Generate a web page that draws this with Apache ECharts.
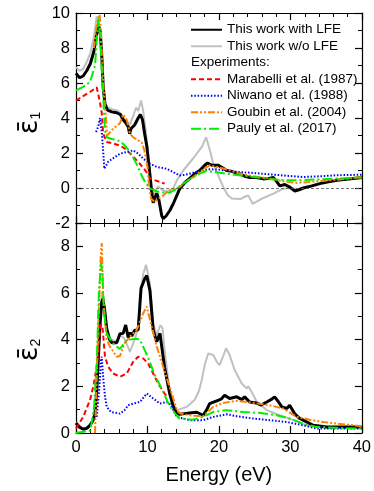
<!DOCTYPE html>
<html>
<head>
<meta charset="utf-8">
<script src="https://cdn.jsdelivr.net/npm/echarts@6/dist/echarts.min.js"></script>
<style>
  html, body { margin: 0; padding: 0; background: #fff; }
  #chart { width: 374px; height: 491px; }
</style>
</head>
<body>
<div id="chart"></div>
<script>
// energy (eV), value pairs
const eps1WithLfe = [[0, 6.55], [0.5, 6.3], [1, 6.4], [1.5, 6.7], [2, 7.1], [2.5, 7.8], [2.9, 8.8], [3.2, 9.2], [3.4, 8.9], [3.6, 7.6], [3.8, 5.8], [4.05, 4.8], [4.4, 4.45], [5, 4.35], [5.7, 4.3], [6.2, 4.2], [6.6, 3.9], [7.0, 3.7], [7.3, 3.5], [7.5, 3.1], [7.7, 3.4], [8.2, 3.6], [8.7, 4.0], [9.0, 4.2], [9.3, 3.9], [9.6, 3.1], [9.9, 2.4], [10.3, 0.9], [10.6, -0.25], [10.8, -0.85], [11.0, -0.6], [11.3, -0.3], [11.6, -0.7], [12.0, -1.6], [12.2, -1.75], [12.6, -1.6], [13.1, -1.3], [13.6, -0.9], [14.5, -0.05], [15.2, 0.3], [15.9, 0.55], [16.6, 0.8], [17.3, 1.0], [18.0, 1.3], [18.4, 1.43], [19.0, 1.3], [19.9, 1.3], [20.5, 1.15], [21.1, 1.0], [21.8, 0.95], [22.5, 0.85], [23.0, 0.8], [23.6, 0.67], [24.3, 0.6], [25.2, 0.6], [26.2, 0.52], [27.0, 0.55], [27.6, 0.6], [28.1, 0.35], [28.5, 0.12], [29.2, 0.2], [29.9, 0.05], [30.6, -0.17], [31.2, -0.1], [31.8, 0.0], [33.0, 0.12], [34.1, 0.25], [35.3, 0.35], [36.5, 0.44], [38.8, 0.54], [40, 0.6]];
const eps1NoLfe = [[0, 6.9], [0.5, 6.7], [1, 6.8], [1.5, 7.2], [2, 7.7], [2.5, 8.6], [2.9, 9.8], [3.1, 9.7], [3.4, 9.0], [3.6, 7.8], [3.8, 6.0], [4.05, 4.9], [4.4, 4.6], [5, 4.5], [5.7, 4.45], [6.2, 4.3], [6.6, 4.0], [7.0, 3.9], [7.5, 3.6], [8.0, 4.1], [8.4, 4.6], [8.7, 4.4], [9.1, 5.0], [9.4, 4.4], [9.8, 3.1], [10.2, 1.4], [10.5, 0.0], [10.8, -0.4], [11.1, -0.2], [11.5, 0.1], [12.0, -0.1], [12.6, -0.2], [13.2, -0.1], [13.6, 0.0], [14.2, 0.5], [15.0, 1.0], [16.4, 1.7], [17.6, 2.35], [18.2, 2.9], [18.7, 2.2], [19.2, 1.4], [19.9, 0.7], [20.6, 0.06], [21.2, -0.4], [21.8, -0.6], [23.0, -0.63], [23.6, -0.5], [24.1, -0.42], [24.7, -0.9], [25.4, -0.75], [26.2, -0.57], [27.6, -0.32], [29.0, -0.04], [30.0, 0.0], [31.0, -0.05], [32.0, 0.05], [34.0, 0.25], [36.5, 0.44], [38.8, 0.54], [40, 0.6]];
const eps1Marabelli = [[0, 5.0], [1, 5.25], [2, 5.5], [2.9, 5.75], [3.3, 5.0], [3.6, 4.3], [3.8, 3.1], [4.3, 2.63], [5.2, 2.55], [6.2, 2.42], [7.0, 2.2], [7.8, 1.87], [8.9, 1.4], [9.7, 1.0], [10.35, 0.55], [11.0, 0.45], [11.8, 0.34], [12.4, 0.25]];
const eps1Niwano = [[2.8, 3.2], [3.1, 3.5], [3.36, 4.0], [3.6, 3.2], [3.8, 2.1], [3.96, 1.1], [4.1, 1.0], [4.5, 1.5], [5.2, 1.7], [6.15, 1.96], [7.1, 2.06], [8.0, 2.15], [8.7, 1.96], [9.4, 1.68], [10.35, 1.39], [11.3, 1.2], [12.7, 1.1], [13.4, 0.95], [14.5, 0.72], [15.2, 0.75], [16, 0.83], [17.3, 0.97], [18.7, 1.07], [20, 1.05], [22.5, 0.92], [24.8, 0.86], [27.1, 0.78], [29.5, 0.7], [31.8, 0.63], [34.1, 0.67], [36.5, 0.73], [40, 0.76]];
const eps1Goubin = [[2.5, 8.0], [2.8, 9.0], [3.1, 9.7], [3.3, 9.9], [3.5, 8.8], [3.8, 6.0], [4.1, 4.5], [4.35, 3.0], [4.8, 3.2], [5.2, 3.4], [6.15, 3.7], [6.6, 4.2], [7.1, 3.9], [7.55, 3.1], [8.0, 2.9], [8.7, 2.72], [9.2, 2.6], [9.6, 2.1], [10.0, 1.2], [10.2, 0.15], [10.5, -0.6], [11.0, -0.8], [11.5, -0.6], [12.0, -0.5], [12.7, -0.23], [13.5, -0.1], [14.5, 0.06], [15.5, 0.4], [16.5, 0.65], [17.3, 0.92], [18.7, 1.3], [20.1, 1.16], [21.5, 1.01], [22.9, 0.82], [24.8, 0.67], [27.1, 0.54], [29.5, 0.35], [30.9, 0.29], [32.7, 0.35], [35.5, 0.44], [38.3, 0.54], [40, 0.63]];
const eps1Pauly = [[0, 5.58], [1, 5.78], [1.96, 6.05], [2.66, 7.0], [3.0, 9.0], [3.15, 9.68], [3.4, 8.5], [3.6, 6.7], [3.8, 5.2], [4.06, 3.3], [4.3, 2.9], [5.0, 2.8], [5.7, 2.75], [6.4, 2.6], [7.1, 2.3], [7.8, 1.9], [8.5, 1.35], [9.2, 0.7], [9.7, 0.3], [10.3, 0.0], [11.3, -0.2], [12.2, -0.25], [13.1, -0.27], [14.1, -0.05], [14.5, 0.12], [15.9, 0.5], [17.3, 0.82], [18.2, 0.97], [19.2, 0.92], [21.1, 0.82], [23.0, 0.72], [24.8, 0.63], [27.0, 0.52], [29.5, 0.44], [31.8, 0.45], [34.1, 0.5], [36.5, 0.54], [40, 0.6]];

const eps2WithLfe = [[0, 0.43], [0.5, 0.25], [1.0, 0.16], [1.5, 0.2], [1.96, 0.33], [2.4, 0.55], [2.66, 0.85], [2.9, 1.8], [3.1, 3.0], [3.35, 4.6], [3.6, 5.6], [3.75, 5.75], [4.0, 5.3], [4.3, 4.45], [4.7, 4.0], [5.0, 3.87], [5.7, 3.87], [6.15, 4.25], [6.6, 4.27], [6.95, 4.63], [7.3, 4.1], [7.6, 4.3], [7.8, 4.15], [8.2, 4.4], [8.7, 4.42], [9.1, 6.2], [9.6, 6.6], [9.9, 6.75], [10.35, 6.1], [10.8, 4.42], [11.3, 3.91], [11.75, 4.27], [12.0, 4.25], [12.4, 2.8], [13.1, 1.7], [13.6, 1.15], [14.1, 0.83], [14.5, 0.8], [15.2, 0.83], [15.9, 0.86], [16.9, 0.89], [17.8, 0.76], [18.3, 1.0], [18.7, 1.26], [19.7, 1.38], [20.3, 1.45], [20.8, 1.62], [21.5, 1.48], [22.5, 1.55], [23.2, 1.43], [23.6, 1.55], [24.3, 1.33], [25.2, 1.29], [25.9, 1.2], [26.7, 1.33], [27.4, 1.45], [27.8, 1.55], [28.3, 1.35], [28.8, 1.12], [29.5, 1.05], [29.9, 1.19], [30.6, 0.83], [31.2, 0.65], [31.8, 0.55], [33.2, 0.33], [35.1, 0.26], [38.4, 0.26], [40, 0.26]];
const eps2NoLfe = [[0, 0.45], [0.5, 0.3], [1.0, 0.2], [1.5, 0.25], [1.96, 0.38], [2.4, 0.6], [2.66, 0.9], [2.9, 1.9], [3.1, 3.2], [3.35, 4.8], [3.6, 6.06], [3.8, 5.9], [4.0, 5.4], [4.3, 4.6], [4.7, 4.1], [5.0, 4.0], [5.7, 3.9], [6.15, 4.2], [6.6, 4.1], [7.0, 3.9], [7.55, 3.48], [8.2, 4.0], [8.7, 4.5], [9.0, 5.85], [9.4, 6.8], [9.8, 7.21], [10.35, 6.4], [10.8, 4.7], [11.3, 4.2], [11.8, 4.63], [12.1, 4.5], [12.4, 3.56], [13.1, 1.84], [13.6, 1.3], [14.1, 0.98], [15.5, 1.12], [16.6, 1.41], [17.2, 1.8], [17.6, 2.27], [18.0, 2.9], [18.5, 3.41], [19.2, 3.34], [19.7, 3.05], [20.1, 2.91], [20.6, 3.3], [21.0, 3.63], [21.5, 3.34], [22.2, 2.7], [23.2, 2.12], [23.9, 1.91], [24.1, 2.0], [24.6, 1.76], [25.3, 1.33], [26.7, 0.98], [28.5, 0.76], [30.4, 0.55], [32.3, 0.33], [34, 0.25], [37, 0.25], [40, 0.26]];
const eps2Marabelli = [[0, 0.19], [1.0, 0.69], [1.96, 1.41], [2.5, 2.1], [2.9, 2.84], [3.36, 4.42], [3.5, 4.65], [3.7, 4.55], [4.06, 3.27], [4.5, 2.84], [5.2, 2.55], [6.15, 2.41], [7.1, 2.55], [8.0, 3.05], [8.7, 3.27], [9.4, 3.2], [10.1, 2.98], [10.8, 2.55], [11.5, 2.12], [12.4, 1.69], [12.9, 1.5]];
const eps2Niwano = [[2.9, 0.69], [3.26, 1.9], [3.5, 3.1], [3.6, 3.27], [3.8, 2.41], [4.06, 1.55], [4.3, 1.12], [4.9, 0.9], [5.5, 0.87], [6.15, 0.83], [6.8, 0.98], [7.3, 1.19], [8.0, 1.26], [8.95, 1.33], [9.9, 1.69], [10.8, 1.48], [11.75, 1.26], [12.7, 1.33], [13.3, 1.2], [14.1, 0.69], [15.9, 0.55], [17.8, 0.55], [19.2, 0.69], [21.1, 0.8], [22.5, 0.72], [24.8, 0.62], [27.1, 0.55], [29.5, 0.47], [31.8, 0.33], [33.7, 0.19], [36.5, 0.19], [40, 0.19]];
const eps2Goubin = [[2.66, 0.0], [3.1, 4.4], [3.45, 7.5], [3.6, 8.14], [3.8, 5.85], [4.3, 4.0], [4.75, 3.7], [5.7, 3.27], [6.15, 3.3], [6.8, 3.84], [7.55, 4.13], [8.5, 4.42], [9.4, 5.13], [9.9, 5.42], [10.35, 4.85], [11.3, 3.7], [12.2, 2.84], [13.1, 1.98], [14.1, 1.0], [14.5, 0.85], [16, 0.75], [17.8, 0.72], [19.2, 1.12], [20.6, 1.29], [22.5, 1.38], [24.8, 1.29], [27.1, 1.19], [29.0, 1.05], [30.9, 0.69], [32.7, 0.57], [34.6, 0.47], [36.5, 0.4], [38.3, 0.35], [40, 0.28]];
const eps2Pauly = [[0, 0.0], [1.0, 0.05], [2.0, 0.1], [2.5, 1.0], [2.9, 2.98], [3.2, 6.0], [3.5, 7.29], [3.7, 6.8], [3.9, 5.2], [4.3, 4.27], [5.0, 3.9], [5.7, 3.7], [6.15, 3.6], [7.1, 3.99], [8.5, 4.04], [8.95, 3.99], [10.0, 3.3], [11.0, 2.5], [12.0, 1.9], [13.1, 1.15], [14.1, 0.75], [14.5, 0.62], [16.3, 0.57], [17.8, 0.69], [19.2, 0.9], [21.1, 0.98], [23.4, 0.9], [25.8, 0.86], [28.1, 0.76], [29.9, 0.62], [31.8, 0.4], [33.7, 0.26], [36.5, 0.22], [40, 0.19]];

const theoryNames = ['This work with LFE', 'This work w/o LFE'];
const exptNames = ['Marabelli et al. (1987)', 'Niwano et al. (1988)', 'Goubin et al. (2004)', 'Pauly et al. (2017)'];

const FONT = 'Liberation Sans, Arial, sans-serif';

// line looks per data set
const styles = {
  'This work with LFE': { color: '#000', width: 3, type: 'solid' },
  'This work w/o LFE': { color: '#c0c0c0', width: 2, type: 'solid' },
  'Marabelli et al. (1987)': { color: '#ff0000', width: 2, type: [5, 3] },
  'Niwano et al. (1988)': { color: '#0000ff', width: 2, type: [1.5, 1.8] },
  'Goubin et al. (2004)': { color: '#ff8000', width: 2, type: [7, 2, 2, 2, 2, 2] },
  'Pauly et al. (2017)': { color: '#00ee00', width: 2, type: [10, 3, 2, 3] }
}

function xAx(grid, pos, labels) {
  return {
    type: 'value', gridIndex: grid, position: pos, min: 0, max: 40, interval: 10,
    axisLine: { onZero: false, lineStyle: { color: '#000', width: 1.2 } },
    axisTick: { inside: true, length: 7, lineStyle: { color: '#000', width: 1.2 } },
    minorTick: { show: true, splitNumber: 5, length: 4, lineStyle: { color: '#000', width: 1 } },
    axisLabel: { show: labels, margin: 6, color: '#000', fontSize: 16.5, fontFamily: FONT },
    splitLine: { show: false }
  }
}

function yAx(grid, pos, min, max, labels) {
  return {
    type: 'value', gridIndex: grid, position: pos, min: min, max: max, interval: 2,
    axisLine: { onZero: false, lineStyle: { color: '#000', width: 1.2 } },
    axisTick: { inside: true, length: 7, lineStyle: { color: '#000', width: 1.2 } },
    minorTick: { show: true, splitNumber: 2, length: 4, lineStyle: { color: '#000', width: 1 } },
    axisLabel: { show: labels, margin: 6, color: '#000', fontSize: 16.5, fontFamily: FONT, showMaxLabel: max === 10 },
    splitLine: { show: false }
  }
}

function line(name, data, xi, yi, extra) {
  const s = styles[name]
  return Object.assign({
    name: name,
    type: 'line',
    xAxisIndex: xi,
    yAxisIndex: yi,
    data: data,
    showSymbol: false,
    symbol: 'none',
    smooth: 0,
    lineStyle: { color: s.color, width: s.width, type: s.type },
    itemStyle: { color: s.color },
    z: 3
  }, extra || {})
}

const legendBase = {
  orient: 'vertical', left: 190, padding: 0,
  itemWidth: 31, itemHeight: 10, itemGap: 0, selectedMode: false,
  itemStyle: { opacity: 0 },
  textStyle: { color: '#000', fontSize: 13.5, fontFamily: FONT, lineHeight: 16.5 }
}

const chart = echarts.init(document.getElementById('chart'), null, { renderer: 'canvas' })

chart.setOption({
  animation: false,
  backgroundColor: '#fff',
  grid: [
    { left: 76, right: 12, top: 13, height: 210 },
    { left: 76, right: 12, top: 223, height: 210 }
  ],
  xAxis: [
    xAx(0, 'bottom', false),
    xAx(0, 'top', false),
    Object.assign(xAx(1, 'bottom', true), {
      name: 'Energy (eV)', nameLocation: 'middle', nameGap: 32,
      nameTextStyle: { color: '#000', fontSize: 20, fontFamily: FONT }
    }),
    xAx(1, 'top', false)
  ],
  yAxis: [
    yAx(0, 'left', -2, 10, true),
    yAx(0, 'right', -2, 10, false),
    yAx(1, 'left', 0, 9, true),
    yAx(1, 'right', 0, 9, false)
  ],
  legend: [
    Object.assign({}, legendBase, { data: theoryNames, top: 21.5 }),
    Object.assign({}, legendBase, { data: exptNames, top: 71 })
  ],
  graphic: [
    {
      type: 'text', left: 191, top: 55,
      style: { text: 'Experiments:', fill: '#000', fontSize: 13.5, fontFamily: FONT }
    },
    {
      type: 'text', x: 30, y: 123, rotation: Math.PI / 2,
      style: {
        text: '{e|ε\u0304}{s|1}', align: 'center', verticalAlign: 'middle',
        rich: {
          e: { fontSize: 27, fontFamily: 'DejaVu Sans', fill: '#000' },
          s: { fontSize: 14, fontFamily: FONT, fill: '#000', padding: [12, 0, 0, 0] }
        }
      }
    },
    {
      type: 'text', x: 30, y: 350, rotation: Math.PI / 2,
      style: {
        text: '{e|ε\u0304}{s|2}', align: 'center', verticalAlign: 'middle',
        rich: {
          e: { fontSize: 27, fontFamily: 'DejaVu Sans', fill: '#000' },
          s: { fontSize: 14, fontFamily: FONT, fill: '#000', padding: [12, 0, 0, 0] }
        }
      }
    }
  ],
  series: [
    line('This work w/o LFE', eps1NoLfe, 0, 0, {
      markLine: {
        silent: true, symbol: 'none', label: { show: false },
        lineStyle: { color: '#555', width: 0.8, type: [3, 2] },
        data: [{ yAxis: 0 }]
      }
    }),
    line('This work with LFE', eps1WithLfe, 0, 0),
    line('Marabelli et al. (1987)', eps1Marabelli, 0, 0),
    line('Niwano et al. (1988)', eps1Niwano, 0, 0),
    line('Goubin et al. (2004)', eps1Goubin, 0, 0),
    line('Pauly et al. (2017)', eps1Pauly, 0, 0),
    line('This work w/o LFE', eps2NoLfe, 2, 2),
    line('This work with LFE', eps2WithLfe, 2, 2),
    line('Marabelli et al. (1987)', eps2Marabelli, 2, 2),
    line('Niwano et al. (1988)', eps2Niwano, 2, 2),
    line('Goubin et al. (2004)', eps2Goubin, 2, 2),
    line('Pauly et al. (2017)', eps2Pauly, 2, 2)
  ]
})
</script>
</body>
</html>
